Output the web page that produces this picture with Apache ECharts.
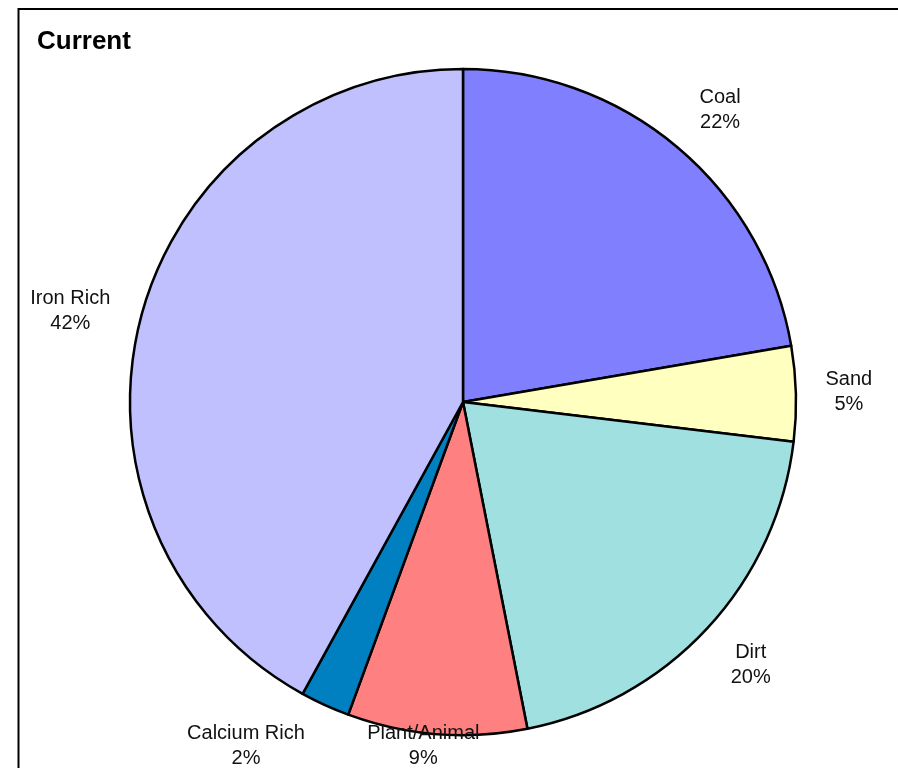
<!DOCTYPE html>
<html>
<head>
<meta charset="utf-8">
<style>
  html, body { margin: 0; padding: 0; background: #fff; }
  #chart { width: 898px; height: 768px; }
</style>
<script src="https://cdn.jsdelivr.net/npm/echarts@6/dist/echarts.min.js"></script>
</head>
<body>
<div id="chart"></div>
<script>
// ---- data ----
const categories = ['Coal', 'Sand', 'Dirt', 'Plant/Animal', 'Calcium Rich', 'Iron Rich'];
const values = [22.3, 4.6, 20.0, 8.7, 2.4, 42.0];
const colors = ['#8080FF', '#FFFFC0', '#A0E0E0', '#FF8080', '#0080C0', '#C0C0FF'];
const titleText = 'Current';

// ---- layout tweaks for labels (offsets only, like Excel's overlap adjustment) ----
const labelNudge = {
  'Coal': [5, 7],
  'Sand': [-5, 0],
  'Dirt': [1, -3],
  'Plant/Animal': [-9, -46],
  'Calcium Rich': [-55, -12],
  'Iron Rich': [-14, 6]
};

const total = values.reduce((a, b) => a + b, 0);
const pieData = categories.map((c, i) => ({ name: c, value: values[i], itemStyle: { color: colors[i] } }));
const fontFam = "'Liberation Sans', Arial, sans-serif";

const chart = echarts.init(document.getElementById('chart'), null, { renderer: 'canvas' });
chart.setOption({
  animation: false,
  backgroundColor: '#fff',
  title: {
    text: titleText,
    left: 37, top: 29, padding: 0,
    textStyle: { fontFamily: fontFam, fontSize: 26, fontWeight: 'bold', color: '#000' }
  },
  graphic: [{
    type: 'polyline',
    shape: { points: [[18.5, 800], [18.5, 9], [900, 9]] },
    style: { stroke: '#000', lineWidth: 2, fill: null },
    silent: true
  }],
  series: [
    {
      type: 'pie',
      center: [463, 402],
      radius: 333,
      startAngle: 90,
      clockwise: true,
      avoidLabelOverlap: false,
      label: { show: false },
      labelLine: { show: false },
      itemStyle: { borderColor: '#000', borderWidth: 2.5 },
      emphasis: { disabled: true },
      data: pieData
    },
    {
      type: 'pie',
      center: [463, 402],
      radius: [333, 443],
      startAngle: 90,
      clockwise: true,
      silent: true,
      avoidLabelOverlap: false,
      itemStyle: { color: 'transparent', borderWidth: 0 },
      labelLine: { show: false },
      label: {
        show: true,
        position: 'inside',
        fontFamily: fontFam,
        fontSize: 20,
        lineHeight: 25,
        color: '#111',
        align: 'center',
        formatter: p => p.name + '\n' + Math.round(p.value / total * 100) + '%'
      },
      labelLayout: p => {
        const n = labelNudge[categories[p.dataIndex]] || [0, 0];
        return { dx: n[0], dy: n[1] };
      },
      emphasis: { disabled: true },
      data: categories.map((c, i) => ({ name: c, value: values[i] }))
    }
  ]
});
</script>
</body>
</html>
